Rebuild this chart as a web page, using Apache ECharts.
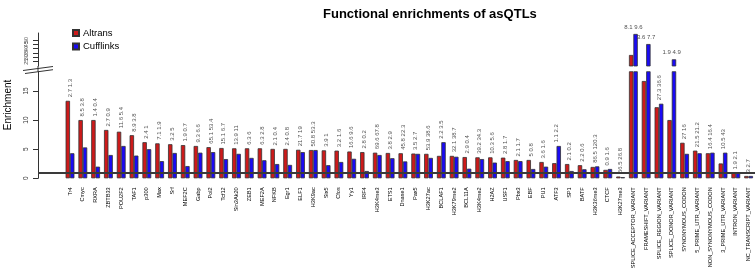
<!DOCTYPE html>
<html><head><meta charset="utf-8">
<script src="https://cdn.jsdelivr.net/npm/echarts@6/dist/echarts.min.js"></script>
<style>html,body{margin:0;padding:0;background:#fff}#c{width:755px;height:273px}</style>
</head><body><div id="c"></div>
<script>
const categories = ["Tr4","Cmyc","RXRA","ZBTB33","POU2F2","TAF1","p300","Max","Srf","MEF2C","Gabp","Pol2","Tcf12","Sin3Ak20","ZEB1","MEF2A","NFKB","Egr1","ELF1","H3K9ac","Six5","Cfos","Yy1","IRF4","H3K4me3","ETS1","Dnase1","Pax5","H3K27ac","BCLAF1","H3K79me2","BCL11A","H3K4me2","H2AZ","USF1","Pbx3","EBF","PU1","ATF3","SP1","BATF","H3K36me3","CTCF","H3K27me3","SPLICE_ACCEPTOR_VARIANT","FRAMESHIFT_VARIANT","SPLICE_REGION_VARIANT","SPLICE_DONOR_VARIANT","SYNONYMOUS_CODON","5_PRIME_UTR_VARIANT","NON_SYNONYMOUS_CODON","3_PRIME_UTR_VARIANT","INTRON_VARIANT","NC_TRANSCRIPT_VARIANT"];
const altrans = [13.3,10.0,10.0,8.3,8.0,7.4,6.2,6.0,5.85,5.7,5.55,5.35,5.2,5.15,5.15,5.15,5.05,5.05,4.9,4.85,4.8,4.75,4.6,4.5,4.4,4.35,4.3,4.25,4.2,3.85,3.85,3.65,3.6,3.6,3.55,3.15,3.15,2.8,2.6,2.45,2.25,1.95,1.45,0.3,32.7,16.7,12.2,10.0,6.1,4.75,4.3,2.55,0.9,0.4];
const cufflinks = [4.3,5.3,2.0,4.0,5.55,3.9,5.0,2.95,4.35,2.1,4.4,4.5,3.3,4.2,3.5,3.1,2.45,2.3,4.5,4.85,2.25,2.8,3.35,1.25,4.0,3.45,2.9,4.2,3.5,6.2,3.7,1.65,3.3,2.7,2.95,2.95,1.6,2.0,5.55,1.25,1.55,2.05,1.6,0.2,56.9,45.3,12.8,27.7,4.2,4.3,4.4,4.4,0.9,0.4];
const countLabels = ["2.7 1.3","8.5 3.8","1.4 0.4","2.7 0.9","11.6 5.4","8.9 3.8","2.4 1","7.1 1.9","3.2 5","1.9 0.7","9.3 6.6","65.1 53.4","15.1 6.7","13.9 11","6.3 6","6.3 2.8","2.1 0.4","2.4 0.8","21.7 19","50.8 53.3","3.9 1","3.2 1.6","16.6 9.6","2.8 0.2","69.6 67.8","3.8 2.9","45.8 22.3","3.5 2.7","53.9 38.6","2.2 3.5","32.1 38.7","2.9 0.4","39.2 34.3","10.3 5.6","2.8 1.7","2.1 1.7","5 0.8","3.6 1.6","1.1 2.2","2.1 0.2","2.2 0.6","86.5 120.3","0.9 1.6","56.5 26.8","8.1 9.6","3.6 7.7","27.3 36.6","1.9 4.9","27 16","21.5 21.2","16.4 16.4","10.5 43","1.9 2.1","3 2.7"];
const lowerTicks = [0,5,10,15];
const upperTicks = [20,25,30,35,40,45,50,55];
const LOWER_MAX = 18.3, UPPER_MIN = 20, UPPER_MAX = 58;

const RED = '#CD1A1A', BLUE = '#1A0AF5';
const FONT = '"Liberation Sans", Arial, Helvetica, sans-serif';
const PAD = 2;
const padNull = new Array(PAD).fill(null);
const xData = new Array(PAD).fill('').concat(categories);
const lowerData = arr => padNull.concat(arr);
const upperData = arr => padNull.concat(arr.map(v => v > LOWER_MAX ? v : null));
const groupMax = categories.map((c, i) => Math.max(altrans[i], cufflinks[i]));
const lowerLabelData = padNull.concat(groupMax.map(v => v <= LOWER_MAX ? v : null));
const upperLabelData = padNull.concat(groupMax.map(v => v > LOWER_MAX ? v : null));

const barStyle = c => ({color: c, borderColor: '#333', borderWidth: 0.8});
const labelFmt = p => countLabels[p.dataIndex - PAD] || '';

const chart = echarts.init(document.getElementById('c'), null, {renderer: 'canvas'});
chart.setOption({
  animation: false,
  textStyle: {fontFamily: FONT},
  title: {text: 'Functional enrichments of asQTLs', left: 318, top: 3,
    textStyle: {fontFamily: FONT, fontSize: 13, fontWeight: 'bold', color: '#000'}},
  legend: {data: ['Altrans', 'Cufflinks'], orient: 'vertical', left: 67, top: 23,
    icon: 'rect', itemWidth: 6, itemHeight: 6, itemGap: 3.5,
    textStyle: {fontFamily: FONT, fontSize: 9.5, color: '#000', padding: [0,0,0,-1]}},
  grid: [
    {left: 38, right: 0, top: 71.7, height: 106.6},
    {left: 38, right: 0, top: 33, height: 33}
  ],
  xAxis: [
    {type: 'category', gridIndex: 0, data: xData,
      axisLine: {show: false}, axisTick: {show: false},
      axisLabel: {interval: 0, rotate: 90, fontSize: 5.6, margin: 9, color: '#000', fontFamily: FONT}},
    {type: 'category', gridIndex: 1, data: xData, show: false}
  ],
  yAxis: [
    {type: 'value', gridIndex: 0, min: 0, max: LOWER_MAX, splitLine: {show: false},
      axisLine: {show: true, lineStyle: {color: '#333', width: 1}},
      axisTick: {show: true, length: 5, customValues: lowerTicks, lineStyle: {color: '#333'}},
      axisLabel: {customValues: lowerTicks, rotate: 90, fontSize: 6.5, margin: 8, color: '#333', fontFamily: FONT}},
    {type: 'value', gridIndex: 1, min: UPPER_MIN, max: UPPER_MAX, splitLine: {show: false},
      axisLine: {show: true, lineStyle: {color: '#333', width: 1}},
      axisTick: {show: true, length: 5, customValues: upperTicks, lineStyle: {color: '#333'}},
      axisLabel: {customValues: upperTicks, rotate: 90, fontSize: 5.5, margin: 9, color: '#555', fontFamily: FONT}}
  ],
  series: [
    {name: 'Altrans', type: 'bar', xAxisIndex: 0, yAxisIndex: 0, data: lowerData(altrans),
      barWidth: 4.4, barGap: '0%', itemStyle: barStyle(RED), clip: true,
      markLine: {silent: true, symbol: ['none', 'none'], label: {show: false},
        lineStyle: {color: '#3a3a3a', width: 2, type: 'solid'}, data: [{yAxis: 1}], z: 10}},
    {name: 'Cufflinks', type: 'bar', xAxisIndex: 0, yAxisIndex: 0, data: lowerData(cufflinks),
      barWidth: 4.4, barGap: '0%', itemStyle: barStyle(BLUE), clip: true},
    {name: 'Altrans', type: 'bar', xAxisIndex: 1, yAxisIndex: 1, data: upperData(altrans),
      barWidth: 4.4, barGap: '0%', itemStyle: barStyle(RED), clip: true},
    {name: 'Cufflinks', type: 'bar', xAxisIndex: 1, yAxisIndex: 1, data: upperData(cufflinks),
      barWidth: 4.4, barGap: '0%', itemStyle: barStyle(BLUE), clip: true},
    {name: 'lowerLabels', type: 'scatter', xAxisIndex: 0, yAxisIndex: 0, data: lowerLabelData,
      symbolSize: 1, itemStyle: {color: 'rgba(0,0,0,0)'}, silent: true, z: 5,
      label: {show: true, position: 'top', distance: 3, rotate: 90, align: 'left', verticalAlign: 'middle',
        fontSize: 6, color: '#222', fontFamily: FONT, formatter: labelFmt}},
    {name: 'upperLabels', type: 'scatter', xAxisIndex: 1, yAxisIndex: 1, data: upperLabelData,
      symbolSize: 1, itemStyle: {color: 'rgba(0,0,0,0)'}, silent: true, z: 5,
      label: {show: true, position: 'top', distance: 3, fontSize: 6, color: '#222', fontFamily: FONT, formatter: labelFmt}}
  ],
  graphic: [
    {type: 'text', x: 8, y: 105, rotation: Math.PI / 2,
      style: {text: 'Enrichment', font: '10px ' + FONT, fill: '#000', align: 'center', verticalAlign: 'middle'}},
    {type: 'line', shape: {x1: 38, y1: 66, x2: 38, y2: 71.7}, style: {stroke: '#333', lineWidth: 1}},
    {type: 'line', shape: {x1: 23, y1: 70.5, x2: 53, y2: 66.5}, style: {stroke: '#333', lineWidth: 1}},
    {type: 'line', shape: {x1: 25, y1: 73.5, x2: 53, y2: 69.7}, style: {stroke: '#333', lineWidth: 1}}
  ]
});
</script></body></html>
